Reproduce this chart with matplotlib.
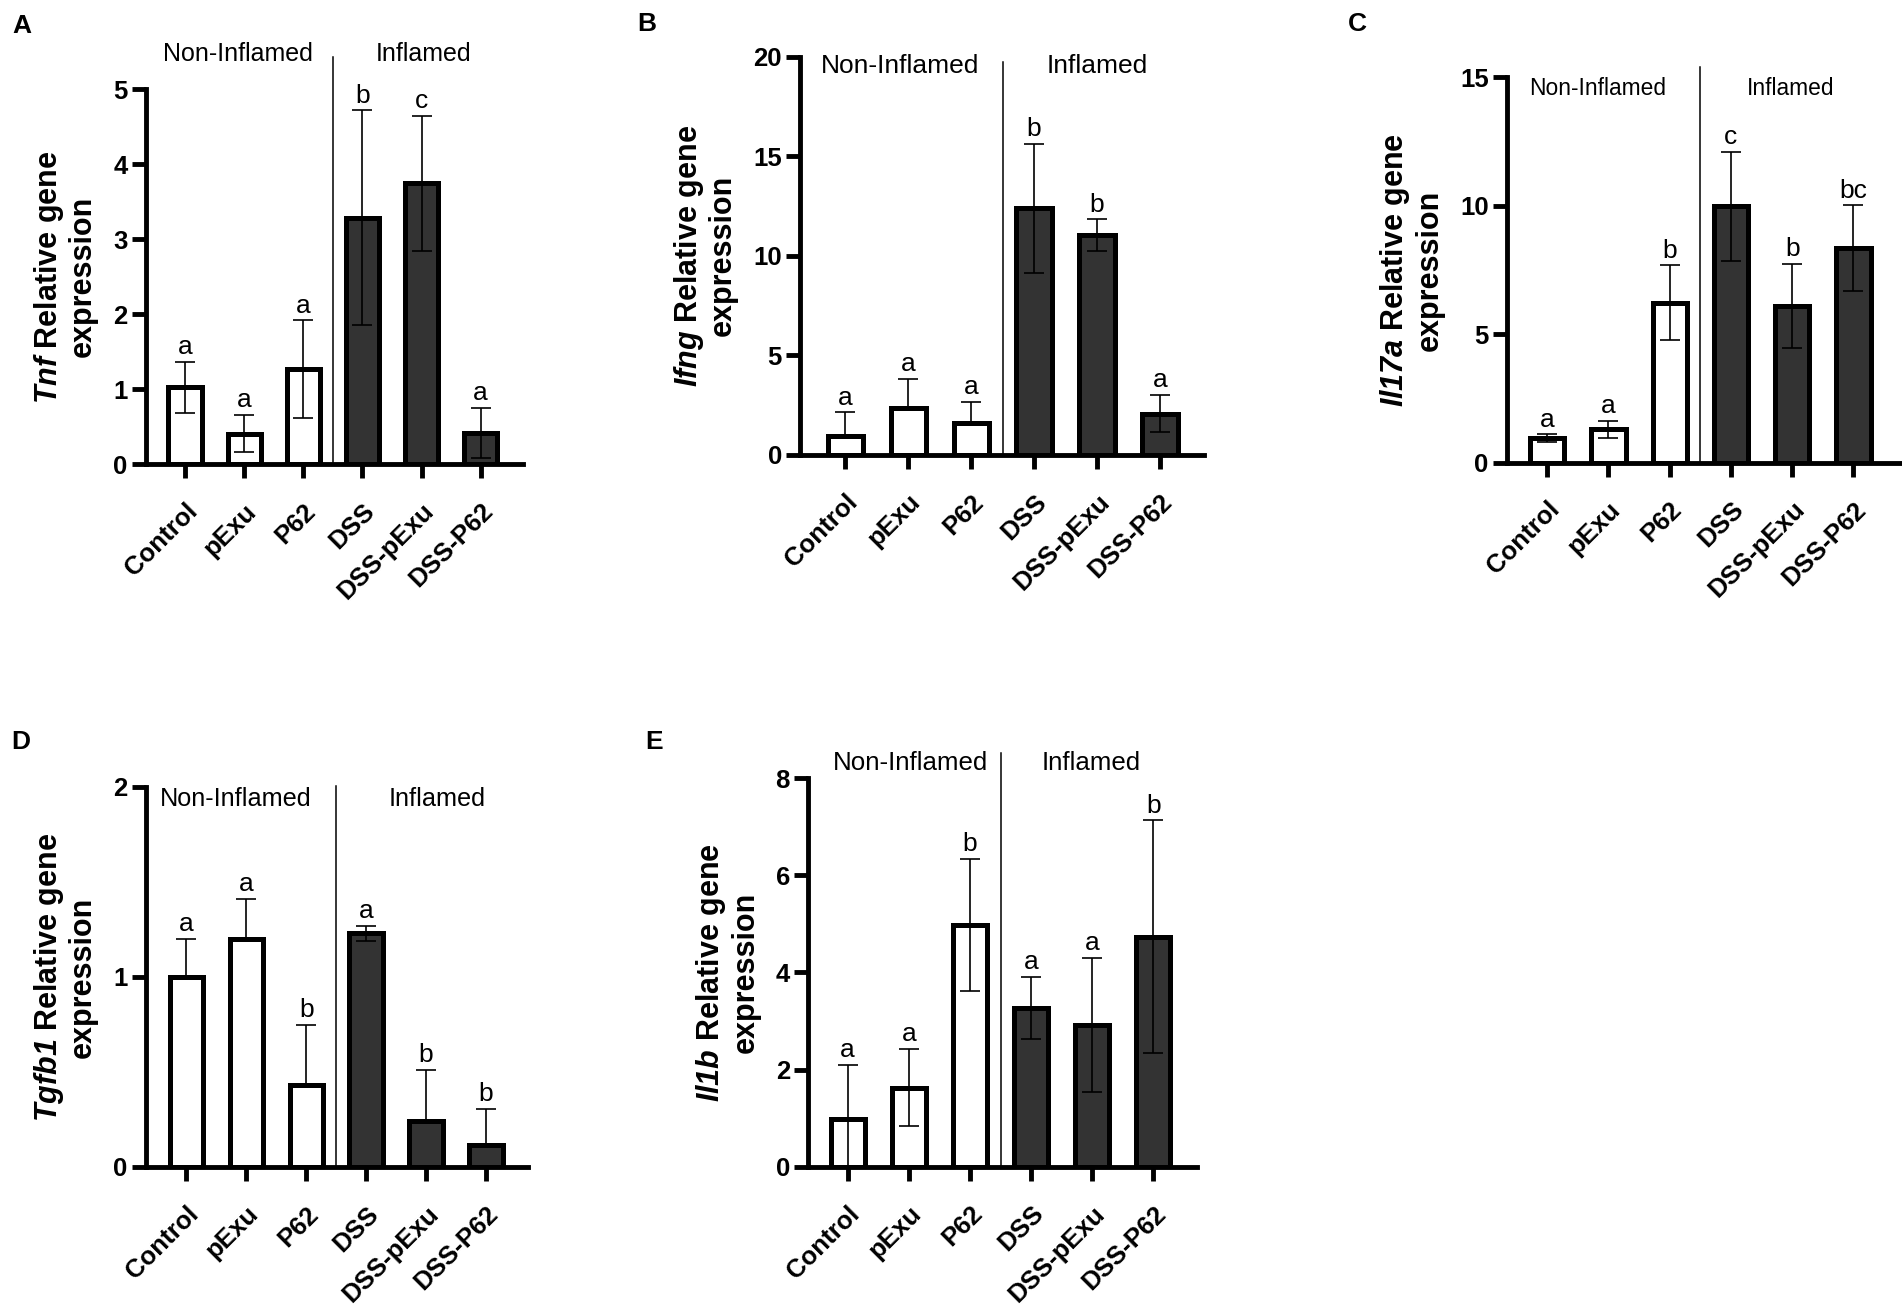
import numpy as np
import matplotlib
matplotlib.use("Agg")
import matplotlib.pyplot as plt

plt.rcParams['font.family'] = ['Liberation Sans', 'DejaVu Sans']
# gene names are the only math text, all in bold italic (digits too)
plt.rcParams['mathtext.fontset'] = 'custom'
plt.rcParams['mathtext.it'] = 'Liberation Sans:italic:bold'
plt.rcParams['mathtext.rm'] = 'Liberation Sans:italic:bold'
plt.rcParams['mathtext.bf'] = 'Liberation Sans:italic:bold'

# groups shared by all panels
groups = ["Control", "pExu", "P62", "DSS", "DSS-pExu", "DSS-P62"]
inflamed = [False, False, False, True, True, True]

# A - Tnf
tnf_mean = [1.03, 0.41, 1.27, 3.29, 3.75, 0.42]
tnf_err = [0.34, 0.25, 0.65, 1.43, 0.90, 0.33]
tnf_lower = [True, True, True, True, True, True]
tnf_sig = ["a", "a", "a", "b", "c", "a"]

# B - Ifng
ifng_mean = [0.95, 2.35, 1.60, 12.38, 11.04, 2.08]
ifng_err = [1.19, 1.48, 1.08, 3.25, 0.78, 0.93]
ifng_lower = [False, False, False, True, True, True]
ifng_sig = ["a", "a", "a", "b", "b", "a"]

# C - Il17a
il17a_mean = [0.95, 1.29, 6.23, 9.97, 6.10, 8.34]
il17a_err = [0.15, 0.33, 1.45, 2.12, 1.63, 1.68]
il17a_lower = [True, True, True, True, True, True]
il17a_sig = ["a", "a", "b", "c", "b", "bc"]

# D - Tgfb1
tgfb1_mean = [1.00, 1.20, 0.43, 1.23, 0.24, 0.115]
tgfb1_err = [0.20, 0.21, 0.32, 0.04, 0.27, 0.19]
tgfb1_lower = [False, False, False, True, False, False]
tgfb1_sig = ["a", "a", "b", "a", "b", "b"]

# E - Il1b
il1b_mean = [0.98, 1.63, 4.98, 3.27, 2.92, 4.73]
il1b_err = [1.12, 0.79, 1.36, 0.64, 1.38, 2.40]
il1b_lower = [True, True, True, True, True, True]
il1b_sig = ["a", "a", "b", "a", "a", "b"]

W, H = 1902, 1316


def rect(left, right, top, bottom):
    # pixel box -> figure fraction
    return [left / W, 1 - bottom / H, (right - left) / W, (bottom - top) / H]


panels = [
    dict(letter="A", gene="Tnf", mean=tnf_mean, err=tnf_err, lower=tnf_lower, sig=tnf_sig,
         yticks=[0, 1, 2, 3, 4, 5], rect=rect(145.7, 522.7, 89.3, 464.3), xlim=(-0.665, 5.71),
         lab=(0.90, 4.04, 1.095), sep=1.087, gsize=18, lpos=(22, 26)),
    dict(letter="B", gene="Ifng", mean=ifng_mean, err=ifng_err, lower=ifng_lower, sig=ifng_sig,
         yticks=[0, 5, 10, 15, 20], rect=rect(800, 1204, 56.5, 455), xlim=(-0.72, 5.70),
         lab=(0.87, 4.0, 0.977), sep=0.987, gsize=19, lpos=(647, 24)),
    dict(letter="C", gene="Il17a", mean=il17a_mean, err=il17a_err, lower=il17a_lower, sig=il17a_sig,
         yticks=[0, 5, 10, 15], rect=rect(1506.7, 1900, 77.3, 462.5), xlim=(-0.66, 5.76),
         lab=(0.83, 3.98, 0.971), sep=1.027, gsize=16.4, lpos=(1357, 24)),
    dict(letter="D", gene="Tgfb1", mean=tgfb1_mean, err=tgfb1_err, lower=tgfb1_lower, sig=tgfb1_sig,
         yticks=[0, 1, 2], rect=rect(145.7, 528, 787, 1167), xlim=(-0.68, 5.70),
         lab=(0.82, 4.18, 0.969), sep=1.003, gsize=18.2, lpos=(21, 742)),
    dict(letter="E", gene="Il1b", mean=il1b_mean, err=il1b_err, lower=il1b_lower, sig=il1b_sig,
         yticks=[0, 2, 4, 6, 8], rect=rect(808, 1196.7, 778, 1166.7), xlim=(-0.65, 5.71),
         lab=(1.02, 3.98, 1.039), sep=1.064, gsize=18.6, lpos=(654, 742)),
]

fig = plt.figure(figsize=(W / 100, H / 100), dpi=100)

for p in panels:
    ax = fig.add_axes(p["rect"])
    x = np.arange(len(groups))
    mean = np.array(p["mean"])
    err = np.array(p["err"])
    lo = np.where(p["lower"], np.minimum(err, mean), 0.0)
    colors = ["#333333" if f else "white" for f in inflamed]

    ax.bar(x, mean, width=0.56, color=colors, edgecolor="black", linewidth=3.6, zorder=2)
    ax.errorbar(x, mean, yerr=[lo, err], fmt="none", ecolor="black", elinewidth=1.2,
                capsize=7, capthick=1.2, zorder=3)

    for xi, m, e, s in zip(x, mean, err, p["sig"]):
        ax.annotate(s, (xi, m + e), xytext=(0, 5.5), textcoords="offset points",
                    ha="center", va="baseline", fontsize=19)

    # separator between non-inflamed and inflamed groups
    ax.plot([2.5, 2.5], [0, p["sep"]], color="black", lw=1.1,
            transform=ax.get_xaxis_transform(), clip_on=False, zorder=1)
    ax.text(p["lab"][0], p["lab"][2], "Non-Inflamed", transform=ax.get_xaxis_transform(),
            ha="center", va="center", fontsize=p["gsize"])
    ax.text(p["lab"][1], p["lab"][2], "Inflamed", transform=ax.get_xaxis_transform(),
            ha="center", va="center", fontsize=p["gsize"])

    ax.set_xlim(*p["xlim"])
    ax.set_ylim(0, p["yticks"][-1])
    ax.set_yticks(p["yticks"])
    ax.set_xticks(x)
    ax.set_xticklabels(groups, rotation=45, ha="right", rotation_mode="anchor",
                       fontsize=18.5, fontweight="bold")
    for lab in ax.get_yticklabels():
        lab.set_fontweight("bold")
        lab.set_fontsize(18.5)
    ax.tick_params(axis="x", length=10, width=3.5, pad=15)
    ax.tick_params(axis="y", length=10, width=3.5, pad=3)
    for side in ["top", "right"]:
        ax.spines[side].set_visible(False)
    for side in ["left", "bottom"]:
        ax.spines[side].set_linewidth(3.5)
    ax.set_ylabel(r"$\mathit{%s}$ Relative gene" % p["gene"] + "\nexpression",
                  fontsize=22, fontweight="bold", labelpad=11, linespacing=1.1)

    fig.text(p["lpos"][0] / W, 1 - p["lpos"][1] / H, p["letter"], ha="center", va="center",
             fontsize=19, fontweight="bold")

fig.savefig("out.png", dpi=100)
